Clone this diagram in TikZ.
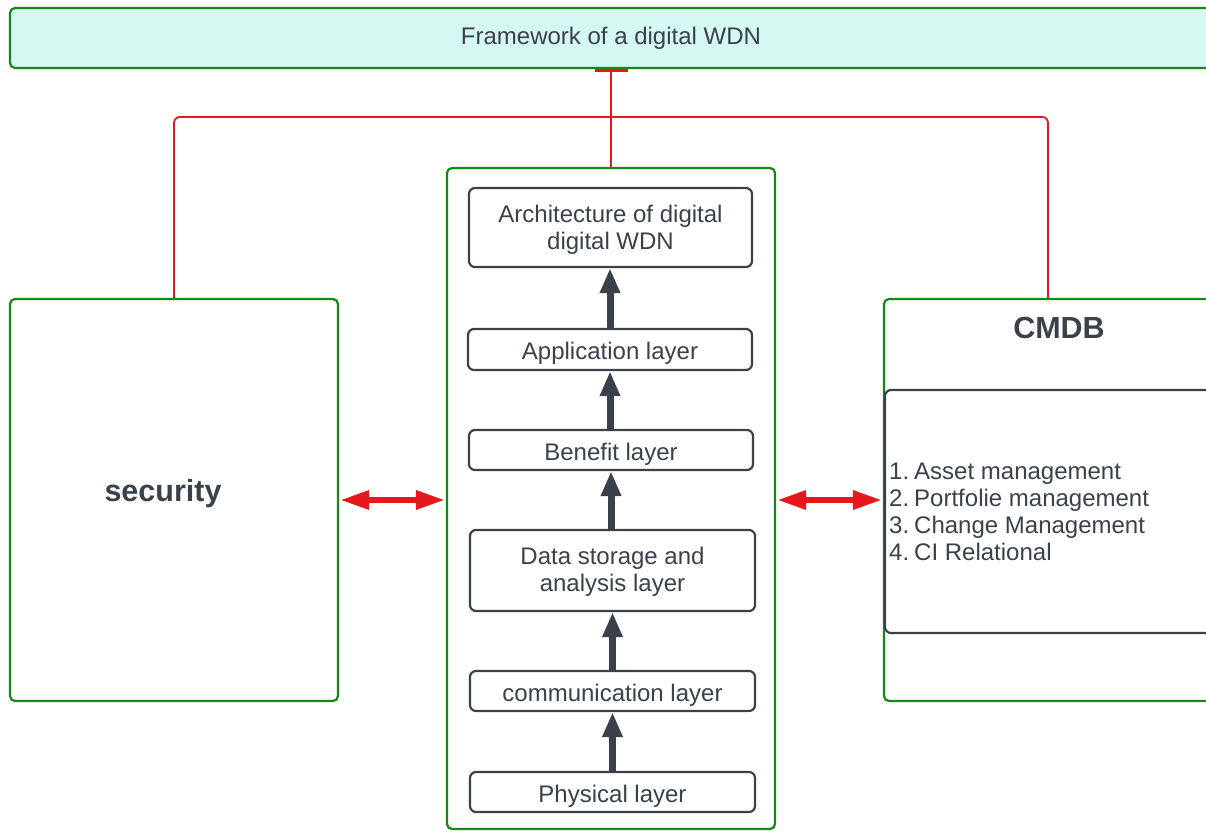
\documentclass[tikz,border=0pt]{standalone}
\usepackage{fontspec}
\setmainfont{Liberation Sans}
\usetikzlibrary{arrows.meta}
\definecolor{frame}{HTML}{148A14}
\definecolor{titlefill}{HTML}{D6F8F2}
\definecolor{ink}{HTML}{3A414A}
\definecolor{link}{HTML}{E5191B}

% one line or a stack of lines, drawn a little lower than its box is centred
\newcommand{\boxtext}[2]{\raisebox{#1}[\height][\depth]{\begin{tabular}{@{}c@{}}#2\end{tabular}}}

\begin{document}
\begin{tikzpicture}[x=1pt, y=-1pt,
  greenbox/.style={draw=frame, line width=2.2pt, rounded corners=5pt, inner sep=0pt},
  layerbox/.style={draw=ink, line width=2.2pt, rounded corners=6pt, fill=white,
                   inner sep=0pt, text=ink, align=center,
                   font=\fontsize{24}{27}\selectfont},
  txt/.style={text=ink, inner sep=0pt, font=\fontsize{24}{27}\selectfont},
  bigtxt/.style={text=ink, inner sep=0pt, font=\fontsize{30.5}{34}\selectfont\bfseries},
  uparrow/.style={draw=ink, line width=7pt, -{Triangle[length=25pt, width=19pt]}},
  twoway/.style={draw=link, line width=6pt,
                 {Triangle[length=29pt, width=18pt]}-{Triangle[length=29pt, width=18pt]},
                 shorten <=1pt, shorten >=1pt},
  redline/.style={draw=link, line width=1.8pt, rounded corners=6pt}]

\useasboundingbox (0,0) rectangle (1206,831);
\clip (0,0) rectangle (1206,831);

% title bar
\node[greenbox, fill=titlefill, minimum width=1202pt, minimum height=60pt,
      text=ink, font=\fontsize{24}{27}\selectfont] (title) at (611,38)
      {\raisebox{3pt}{Framework of a digital WDN}};

% outer frames
\node[greenbox, minimum width=328pt, minimum height=661pt] (core) at (611,498.5) {};
\node[greenbox, minimum width=328pt, minimum height=402pt] (sec) at (174,500) {};
\node[greenbox, minimum width=328pt, minimum height=402pt] (cmdb) at (1048,500) {};

\node[bigtxt] (seclabel) at (163,494) {security};
\node[bigtxt] (cmdblabel) at (1059,328) {CMDB};

% CMDB content
\node[draw=ink, line width=2.2pt, rounded corners=6pt, inner sep=0pt,
      minimum width=327pt, minimum height=243pt] (cmdblist) at (1048.5,511.5) {};
\node[txt, anchor=west] (items) at (889,515)
  {\begin{tabular}{@{}r@{\hspace{5pt}}l@{}}
   1. & Asset management\\
   2. & Portfolie management\\
   3. & Change Management\\
   4. & CI Relational
   \end{tabular}};

% layer stack
\node[layerbox, minimum width=283pt, minimum height=79pt] (arch) at (610.5,227.5)
  {\boxtext{-3pt}{Architecture of digital\\digital WDN}};
\node[layerbox, minimum width=284pt, minimum height=41pt] (app) at (610,349.5)
  {\boxtext{-5pt}{Application layer}};
\node[layerbox, minimum width=284pt, minimum height=40pt] (ben) at (611,450)
  {\boxtext{-5pt}{Benefit layer}};
\node[layerbox, minimum width=285pt, minimum height=81pt] (data) at (612.5,570.5)
  {\boxtext{-2.5pt}{Data storage and\\analysis layer}};
\node[layerbox, minimum width=285pt, minimum height=40pt] (comm) at (612.5,691)
  {\boxtext{-5pt}{communication layer}};
\node[layerbox, minimum width=285pt, minimum height=40pt] (phys) at (612.5,792)
  {\boxtext{-5pt}{Physical layer}};

\draw[uparrow] (phys.north) -- (phys.north |- comm.south);
\draw[uparrow] (comm.north) -- (comm.north |- data.south);
\draw[uparrow] (data.north -| ben.south) -- (ben.south);
\draw[uparrow] (ben.north -| app.south) -- (app.south);
\draw[uparrow] (app.north) -- (app.north |- arch.south);

% links between the parts
\draw[redline] (sec.north) -- ++(0,-181) -| (cmdb.north);
\draw[draw=link, line width=1.8pt, -{Bar[width=33pt, line width=3pt]}]
  (core.north) -- (title.south);
\draw[twoway] (sec.east) -- (sec.east -| core.west);
\draw[twoway] (core.east |- cmdb.west) -- (cmdb.west);
\end{tikzpicture}
\end{document}
